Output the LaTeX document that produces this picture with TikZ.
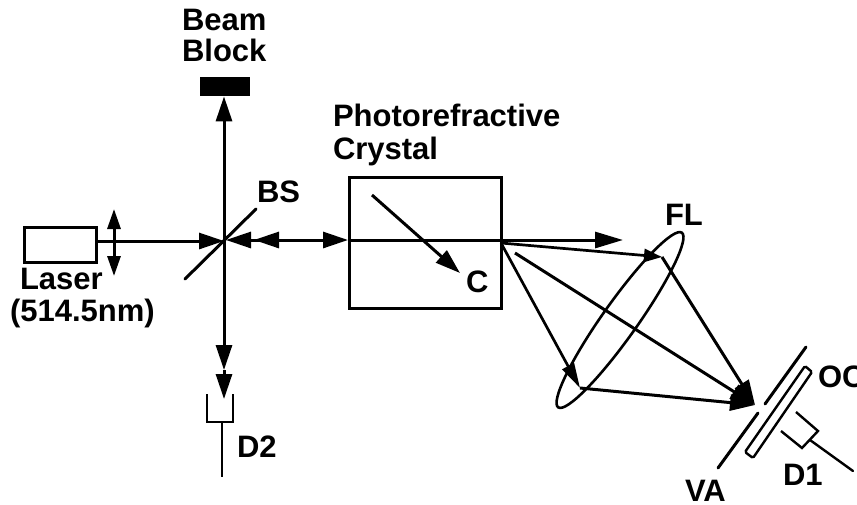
\documentclass[tikz,border=0pt]{standalone}
\usepackage{fontspec}
\setmainfont{Liberation Sans}
\usetikzlibrary{arrows.meta,shapes.geometric,calc}
\tikzset{
  lbl/.style={anchor=base west,inner sep=0pt,outer sep=0pt,font=\fontsize{31}{31}\selectfont\bfseries},
  beam/.style={line width=3pt},
  thin beam/.style={line width=2.7pt},
  optic/.style={line width=3pt},
  tip/.style={-{Triangle[length=25pt,width=16pt]}},
  bigtip/.style={-{Triangle[length=25pt,width=16pt]}},
  smalltip/.style={-{Triangle[length=20pt,width=13pt]}},
}
\begin{document}
\begin{tikzpicture}[x=1pt,y=-1pt]
\useasboundingbox (0,0) rectangle (857,504);
% named points
\coordinate (bsc) at (224,241);
\coordinate (vbot) at (224,399);
\coordinate (vmid) at (224,370);
\coordinate (lensT) at (114,209);
\coordinate (lensB) at (114,276);
\coordinate (lensM) at (114,241);
\coordinate (bs1) at (185,279);
\coordinate (bs2) at (256,209);
\coordinate (bsr) at (254,240);
\coordinate (bsL) at (226,240);
\coordinate (exit) at (501,243);
\coordinate (A) at (662,257);
\coordinate (B) at (580,388);
\coordinate (F) at (755,405);
\coordinate (d0) at (515,253);
\coordinate (cstart) at (372,195);
\coordinate (cend) at (460,273);
% laser
\node[draw,line width=2.7pt,minimum width=72pt,minimum height=35pt,inner sep=0pt,anchor=north west] (laser) at (23,226) {};
% crystal
\node[draw,line width=2.7pt,minimum width=152pt,minimum height=131pt,inner sep=0pt,anchor=north west] (crystal) at (348,176) {};
% block
\node[fill=black,minimum width=50pt,minimum height=19pt,inner sep=0pt,anchor=north west] (block) at (200,77) {};
% lens ellipse
\node[draw,ellipse,line width=2.6pt,minimum width=214pt,minimum height=35pt,inner sep=0pt,rotate=54.7] (FLens) at (620,320) {};
% text
\node[lbl] (tBeam) at (182,30) {Beam};
\node[lbl] (tBlock) at (182,61) {Block};
\node[lbl] (tPhoto) at (333,126) {Photorefractive};
\node[lbl] (tCrystal) at (333,159) {Crystal};
\node[lbl] (tBS) at (257,202) {BS};
\node[lbl] (tC) at (466,292) {C};
\node[lbl] (tLaser) at (20,289) {Laser};
\node[lbl] (tWave) at (10,321) {(514.5nm)};
\node[lbl] (tFL) at (665,225) {FL};
\node[lbl] (tOC) at (818,387) {OC};
\node[lbl] (tD1) at (783,485) {D1};
\node[lbl] (tVA) at (685,501) {VA};
\node[lbl] (tD2) at (237,457) {D2};
% main horizontal
\draw[beam,tip] (laser.east |- bsc) -- (bsc);
\draw[smalltip,beam] (lensM) -- (lensT);
\draw[smalltip,beam] (lensM) -- (lensB);
\draw[optic,line cap=round] (bs1) -- (bs2);
% vertical
\draw[beam,tip] (bsc) -- (block.south -| bsc);
\draw[beam,tip] (bsc) -- (vmid);
\draw[beam,tip] (vmid) -- (vbot);
% between BS and crystal
\draw[beam,tip] (bsr) -- (bsL);
\draw[beam,tip] ($(bsr)+(26,0)$) -- (bsr);
\draw[beam,tip] (bsr) -- (crystal.west |- bsr);
\draw[beam,-{Triangle[length=28pt,width=16pt]}] (crystal.west |- bsr) -- (623,240);
\draw[beam,tip] (cstart) -- (cend);
% beams
\draw[thin beam,-{Triangle[length=18pt,width=13pt]}] (exit) -- (A);
\draw[thin beam,-{Triangle[length=25pt,width=13pt]}] (exit) -- (B);
\draw[beam,bigtip] (A) -- (F);
\draw[beam,bigtip] (B) -- (F);
\draw[beam,bigtip] (d0) -- (F);
% VA
\draw[optic,line cap=round] (718,468) -- (758,413);
\draw[optic,line cap=round] (765,404) -- (806,347);
% OC
\draw[line width=2.4pt,rounded corners=1.5pt] (745,452) -- (753,458) -- (812,372) -- (805,366) -- cycle;
% D1
\draw[line width=2.4pt] (781,431) -- (802,448) -- (818,431) -- (796,412);
\draw[line width=2.4pt,line cap=round] (810,440) -- (853,471);
% D2
\draw[line width=2.6pt] (207,394) -- (207,422) -- (233,422) -- (233,394);
\draw[line width=2.6pt] (222,422) -- (222,477);
\end{tikzpicture}
\end{document}
